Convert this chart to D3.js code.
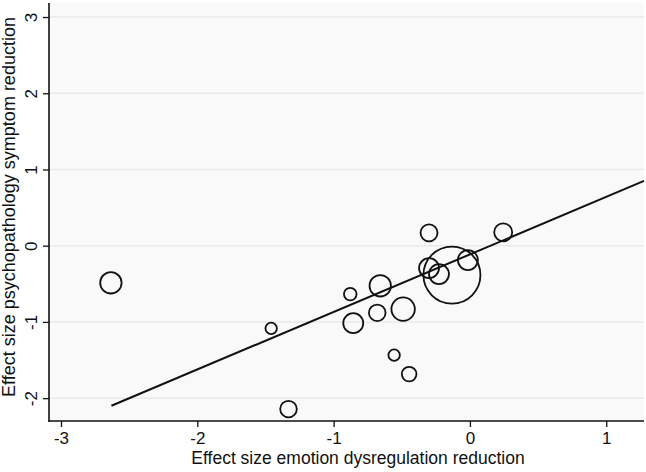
<!DOCTYPE html>
<html>
<head>
<meta charset="utf-8">
<script src="https://cdn.jsdelivr.net/npm/d3@7"></script>
<style>
  html, body { margin: 0; padding: 0; background: #fff; }
  svg text { font-family: "Liberation Sans", Arial, sans-serif; }
</style>
</head>
<body>
<svg id="chart" width="646" height="472"></svg>
<script>
// Data: study effect sizes (x: emotion dysregulation, y: psychopathology) and weights
const emotionES = [-2.634, -1.458, -1.331, -0.878, -0.856, -0.680, -0.658, -0.556, -0.490, -0.446, -0.300, -0.300, -0.227, -0.132, -0.015, 0.244];
const psychES   = [-0.487, -1.085, -2.144, -0.635, -1.016, -0.881, -0.526, -1.436, -0.832, -1.685, 0.169, -0.294, -0.373, -0.386, -0.189, 0.175];
const weights   = [14.1, 4.0, 8.5, 4.9, 12.3, 8.5, 14.1, 4.0, 16.9, 6.6, 8.9, 12.3, 12.3, 100, 12.3, 10];
const xTicks = [-3, -2, -1, 0, 1];
const yTicks = [-2, -1, 0, 1, 2, 3];
const fitLine = { intercept: -0.114, slope: 0.755, xStart: -2.63 };

const svg = d3.select("#chart");
const pLeft = 49, pRight = 644, pTop = 3, pBottom = 421;
const fs = 17;

const x = d3.scaleLinear().domain([-3.088, 1.277]).range([pLeft, pRight]);
const y = d3.scaleLinear().domain([-2.30, 3.184]).range([pBottom, pTop]);
const r = d3.scaleSqrt().domain([0, 100]).range([0, 28.5]);

// plot background
svg.append("rect").attr("x", pLeft).attr("y", pTop)
  .attr("width", pRight - pLeft).attr("height", pBottom - pTop)
  .attr("fill", "#f9f9f9");

// gridlines
svg.append("g").selectAll("line").data(yTicks).join("line")
  .attr("x1", pLeft).attr("x2", pRight)
  .attr("y1", d => y(d)).attr("y2", d => y(d))
  .attr("stroke", "#e9e9e9").attr("stroke-width", 1.5);

// fitted line
const xEnd = x.domain()[1];
svg.append("line")
  .attr("x1", x(fitLine.xStart)).attr("y1", y(fitLine.intercept + fitLine.slope * fitLine.xStart))
  .attr("x2", x(xEnd)).attr("y2", y(fitLine.intercept + fitLine.slope * xEnd))
  .attr("stroke", "#111").attr("stroke-width", 2);

// circles
const pts = emotionES.map((v, i) => ({ x: v, y: psychES[i], w: weights[i] }));
svg.append("g").selectAll("circle").data(pts).join("circle")
  .attr("cx", d => x(d.x)).attr("cy", d => y(d.y)).attr("r", d => r(d.w))
  .attr("fill", "none").attr("stroke", "#111").attr("stroke-width", 1.8);

// x axis
const xAxis = d3.axisBottom(x).tickValues(xTicks).tickSize(6).tickPadding(5)
  .tickFormat(d3.format("d"));
const gx = svg.append("g").attr("transform", `translate(0,${pBottom})`).call(xAxis);
gx.select(".domain").remove();
gx.selectAll(".tick line").attr("stroke", "#111").attr("stroke-width", 1.3);
gx.selectAll(".tick text").attr("font-size", fs).attr("fill", "#111")
  .text(d => d < 0 ? "-" + Math.abs(d) : d);

// y axis
const yAxis = d3.axisLeft(y).tickValues(yTicks).tickSize(6).tickFormat(d3.format("d"));
const gy = svg.append("g").attr("transform", `translate(${pLeft},0)`).call(yAxis);
gy.select(".domain").remove();
gy.selectAll(".tick line").attr("stroke", "#111").attr("stroke-width", 1.3);
gy.selectAll(".tick text").remove();
gy.selectAll(".tick").append("text")
  .attr("transform", "translate(-12,0) rotate(-90)")
  .attr("text-anchor", "middle").attr("dy", 0)
  .attr("font-size", fs).attr("fill", "#111")
  .text(d => d < 0 ? "-" + Math.abs(d) : d);

// axis lines
svg.append("line").attr("x1", pLeft).attr("x2", pLeft).attr("y1", pTop).attr("y2", pBottom + 0.8)
  .attr("stroke", "#111").attr("stroke-width", 1.6);
svg.append("line").attr("x1", pLeft - 0.8).attr("x2", pRight).attr("y1", pBottom).attr("y2", pBottom)
  .attr("stroke", "#111").attr("stroke-width", 1.6);

// titles
svg.append("text").attr("x", 358).attr("y", 464).attr("text-anchor", "middle")
  .attr("font-size", 17.5).attr("fill", "#111")
  .text("Effect size emotion dysregulation reduction");
svg.append("text").attr("transform", "translate(15,207) rotate(-90)")
  .attr("text-anchor", "middle").attr("font-size", 18).attr("fill", "#111")
  .text("Effect size psychopathology symptom reduction");
</script>
</body>
</html>
